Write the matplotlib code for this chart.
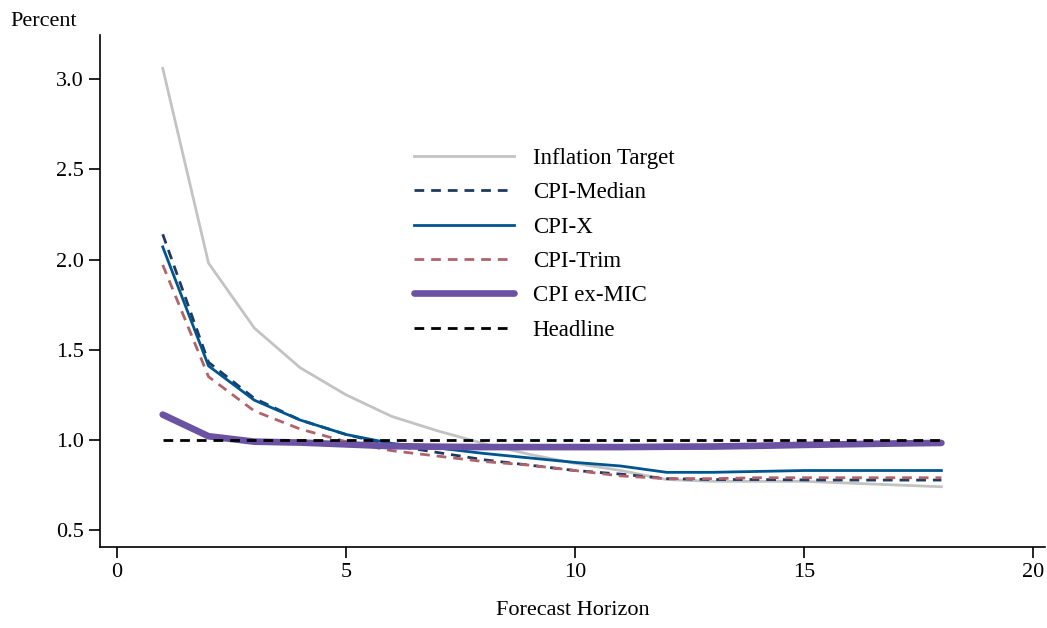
import matplotlib.pyplot as plt
import numpy as np

plt.rcParams['font.family'] = ['Liberation Serif', 'DejaVu Serif']

horizon = np.arange(1, 19)
inflation_target = [3.06, 1.98, 1.62, 1.40, 1.25, 1.13, 1.05, 0.98, 0.92,
                    0.87, 0.83, 0.78, 0.77, 0.77, 0.77, 0.76, 0.75, 0.74]
cpi_median = [2.14, 1.43, 1.23, 1.11, 1.03, 0.97, 0.93, 0.89, 0.86,
              0.83, 0.81, 0.785, 0.78, 0.78, 0.778, 0.777, 0.777, 0.777]
cpi_x = [2.07, 1.41, 1.22, 1.11, 1.03, 0.98, 0.955, 0.925, 0.90,
         0.875, 0.855, 0.82, 0.82, 0.825, 0.83, 0.83, 0.83, 0.83]
cpi_trim = [1.97, 1.35, 1.16, 1.06, 0.99, 0.94, 0.91, 0.88, 0.86,
            0.83, 0.80, 0.785, 0.785, 0.79, 0.79, 0.79, 0.79, 0.79]
cpi_exmic = [1.14, 1.02, 0.99, 0.985, 0.975, 0.965, 0.962, 0.96, 0.96,
             0.96, 0.96, 0.962, 0.963, 0.967, 0.972, 0.976, 0.98, 0.983]
headline = [1.0] * 18

fig = plt.figure(figsize=(10.47, 6.28), dpi=100)
ax = fig.add_axes([0.0955, 0.129, 0.9025, 0.815])

ax.plot(horizon, inflation_target, color='#c3c3c3', lw=2, label='Inflation Target')
ax.plot(horizon, cpi_median, color='#1f3a5f', lw=2, dashes=(3.5, 2.5), label='CPI-Median')
ax.plot(horizon, cpi_x, color='#00558f', lw=2, label='CPI-X')
ax.plot(horizon, cpi_trim, color='#b0646a', lw=2, dashes=(3.5, 2.5), label='CPI-Trim')
ax.plot(horizon, cpi_exmic, color='#6b52a3', lw=4.8, solid_capstyle='round', label='CPI ex-MIC')
ax.plot(horizon, headline, color='black', lw=2, dashes=(3.5, 2.5), label='Headline')

ax.set_xlim(-0.37, 20.26)
ax.set_ylim(0.406, 3.244)
ax.set_xticks([0, 5, 10, 15, 20])
ax.set_yticks([0.5, 1.0, 1.5, 2.0, 2.5, 3.0])
ax.set_yticklabels(['0.5', '1.0', '1.5', '2.0', '2.5', '3.0'])
ax.tick_params(labelsize=16, length=8, width=1.2, direction='out')
for s in ['top', 'right']:
    ax.spines[s].set_visible(False)
for s in ['left', 'bottom']:
    ax.spines[s].set_linewidth(1.2)

ax.set_xlabel('Forecast Horizon', fontsize=16, labelpad=14)
fig.text(0.01, 0.965, 'Percent', fontsize=16, ha='left', va='center')

ax.legend(loc='upper left', bbox_to_anchor=(0.31, 0.82), frameon=False,
          fontsize=16.5, handlelength=4.4, handletextpad=0.8, labelspacing=0.58)

fig.savefig('out.png', dpi=100)
